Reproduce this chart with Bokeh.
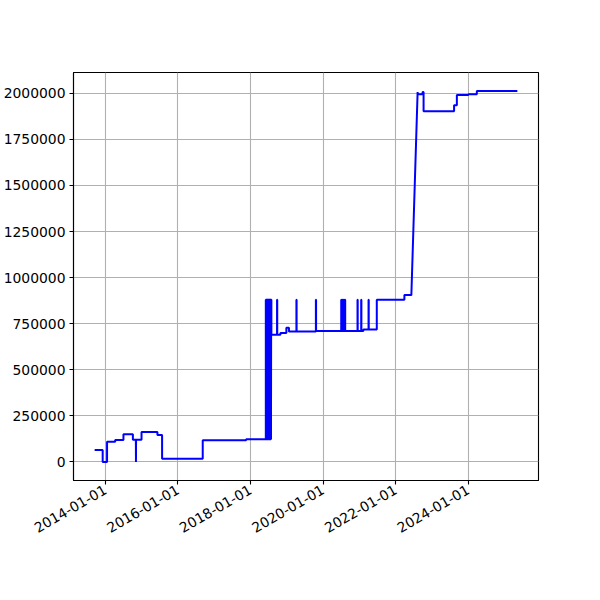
import math
from datetime import datetime, timedelta
from bokeh.plotting import figure
from bokeh.models import FixedTicker, DatetimeTickFormatter, NumeralTickFormatter, Range1d
from bokeh.embed import file_html
from bokeh.resources import INLINE

# Polyline vertices (duplicated dates = vertical steps)
dates = [
    "2013-09-15", "2013-12-05", "2013-12-05", "2014-01-18", "2014-01-18",
    "2014-04-10", "2014-04-10", "2014-07-02", "2014-07-02", "2014-10-05",
    "2014-10-05", "2014-11-04", "2014-11-05", "2014-11-06", "2014-12-31",
    "2014-12-31", "2015-06-09", "2015-06-09", "2015-07-26", "2015-07-26",
    "2016-09-07", "2016-09-07", "2017-11-18", "2017-11-18", "2018-06-04",
]
values = [
    65000, 65000, 0, 0, 110000,
    110000, 119000, 119000, 150000, 150000,
    121000, 121000, 0, 121000, 121000,
    162000, 162000, 146000, 146000, 18000,
    18000, 118000, 118000, 123000, 123000,
]

# dense oscillation block mid-2018 (spike start dates, one-day spikes)
spikes_2018 = ["2018-06-04", "2018-06-07", "2018-06-10", "2018-06-13", "2018-06-16",
               "2018-06-19", "2018-06-22", "2018-06-25", "2018-06-28", "2018-07-01",
               "2018-07-04", "2018-07-07", "2018-07-10", "2018-07-13", "2018-07-16",
               "2018-07-19", "2018-07-22", "2018-07-25"]
spike_low_2018 = 123000
spike_high = 880000

dates_mid = [
    "2018-07-28", "2018-07-30", "2018-07-30", "2018-09-25", "2018-09-25",
    "2018-09-27", "2018-09-27", "2018-10-29", "2018-10-29", "2018-12-28",
    "2018-12-28", "2019-01-23", "2019-01-23", "2019-04-08", "2019-04-08",
    "2019-04-10", "2019-04-10", "2019-10-21", "2019-10-21", "2019-10-23",
    "2019-10-23", "2020-07-01",
]
values_mid = [
    880000, 880000, 690000, 690000, 880000,
    880000, 690000, 690000, 700000, 700000,
    728000, 728000, 708000, 708000, 880000,
    880000, 708000, 708000, 880000, 880000,
    710000, 710000,
]

spikes_2020 = ["2020-07-02", "2020-07-10", "2020-07-18", "2020-07-26", "2020-08-03", "2020-08-10"]
spike_low_2020 = 710000

dates_late = [
    "2020-12-13", "2020-12-13", "2020-12-15", "2020-12-15", "2021-01-19",
    "2021-01-19", "2021-01-21", "2021-01-21", "2021-02-10", "2021-02-10",
    "2021-04-03", "2021-04-03", "2021-04-05", "2021-04-05", "2021-06-25",
    "2021-06-25", "2022-03-30", "2022-03-30", "2022-06-08", "2022-08-10",
    "2022-08-12", "2022-09-29", "2022-09-29", "2022-10-09", "2022-10-09",
    "2023-08-12", "2023-08-12", "2023-09-09", "2023-09-09", "2024-01-03",
    "2024-01-03", "2024-03-28", "2024-03-28", "2025-05-10",
]
values_late = [
    710000, 880000, 880000, 710000, 710000,
    880000, 880000, 710000, 710000, 719000,
    719000, 880000, 880000, 719000, 719000,
    880000, 880000, 905000, 905000, 2007000,
    1995000, 1995000, 2007000, 2007000, 1902000,
    1902000, 1935000, 1935000, 1990000, 1990000,
    1995000, 1995000, 2012000, 2012000,
]

y_ticks = [0, 250000, 500000, 750000, 1000000, 1250000, 1500000, 1750000, 2000000]
x_tick_labels = ["2014-01-01", "2016-01-01", "2018-01-01", "2020-01-01", "2022-01-01", "2024-01-01"]


def d(s):
    return datetime.strptime(s, "%Y-%m-%d")


xs, ys = [], []
for s, v in zip(dates, values):
    xs.append(d(s)); ys.append(v)
for s in spikes_2018:
    t = d(s)
    xs += [t, t, t + timedelta(days=1), t + timedelta(days=1)]
    ys += [spike_low_2018, spike_high, spike_high, spike_low_2018]
for s, v in zip(dates_mid, values_mid):
    xs.append(d(s)); ys.append(v)
for s in spikes_2020:
    t = d(s)
    xs += [t, t, t + timedelta(days=1), t + timedelta(days=1)]
    ys += [spike_low_2020, spike_high, spike_high, spike_low_2020]
for s, v in zip(dates_late, values_late):
    xs.append(d(s)); ys.append(v)

x0, x1 = min(xs), max(xs)
pad = (x1 - x0) * 0.05
ymin, ymax = min(ys), max(ys)
ypad = (ymax - ymin) * 0.05

p = figure(
    x_axis_type="datetime",
    frame_width=465, frame_height=408,
    min_border_left=69, min_border_right=50, min_border_top=72, min_border_bottom=104,
    output_backend="svg", toolbar_location=None,
    x_range=Range1d(x0 - pad, x1 + pad),
    y_range=Range1d(ymin - ypad, ymax + ypad),
)
p.background_fill_color = "white"
p.border_fill_color = "white"
p.outline_line_color = "black"
p.outline_line_width = 1.1

p.line(xs, ys, line_color="#0000ff", line_width=2.0)

tick_ms = [d(s).timestamp() * 1000 for s in x_tick_labels]
p.xaxis.ticker = FixedTicker(ticks=tick_ms)
fmt = "%Y-%m-%d"
p.xaxis.formatter = DatetimeTickFormatter(years=fmt, months=fmt, days=fmt, hours=fmt,
                                          minutes=fmt, seconds=fmt, milliseconds=fmt,
                                          microseconds=fmt, hourmin=fmt, minsec=fmt)
p.xaxis.major_label_orientation = math.pi / 6
p.yaxis.ticker = FixedTicker(ticks=y_ticks)
p.yaxis.formatter = NumeralTickFormatter(format="0")

for ax in (p.xaxis, p.yaxis):
    ax.axis_line_color = "black"
    ax.axis_line_width = 1.1
    ax.major_tick_line_color = "black"
    ax.major_tick_line_width = 1.1
    ax.major_tick_out = 4
    ax.major_tick_in = 0
    ax.minor_tick_line_color = None
    ax.major_label_standoff = 4
    ax.major_label_text_font = "DejaVu Sans"
    ax.major_label_text_font_size = "13.9px"
    ax.major_label_text_color = "black"

p.grid.grid_line_color = "#b0b0b0"
p.grid.grid_line_width = 1.1

html = file_html(p, INLINE)
open("out.html", "w").write(html)
